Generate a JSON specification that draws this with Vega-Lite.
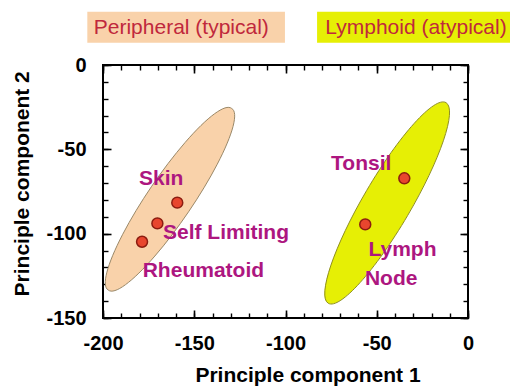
{
  "$schema": "https://vega.github.io/schema/vega-lite/v6.json",
  "width": 365,
  "height": 253,
  "autosize": {"type": "none"},
  "padding": {"left": 103, "top": 65, "right": 42, "bottom": 68},
  "background": "white",
  "config": {
    "font": "Liberation Sans",
    "view": {"stroke": "#000000", "strokeWidth": 2}
  },
  "datasets": {
    "ellipses": [
      {"group": "Peripheral", "x": -163.3, "y": -79.6},
      {"group": "Lymphoid", "x": -44.3, "y": -81.8}
    ],
    "samples": [
      {"x": -159.3, "y": -81.6},
      {"x": -170.2, "y": -93.9},
      {"x": -178.6, "y": -104.8},
      {"x": -34.9, "y": -67.2},
      {"x": -56.3, "y": -94.5}
    ],
    "labels": [
      {"label": "Skin", "x": -168.1, "y": -67.7},
      {"label": "Self Limiting", "x": -132.6, "y": -99.8},
      {"label": "Rheumatoid", "x": -145, "y": -121.9},
      {"label": "Tonsil", "x": -58.5, "y": -58.7},
      {"label": "Lymph", "x": -35.9, "y": -109.7},
      {"label": "Node", "x": -42.1, "y": -127.0}
    ],
    "boxes": [
      {"group": "Peripheral", "x1": -208.6, "x2": -100.3, "y1": 31.6, "y2": 13.2},
      {"group": "Lymphoid", "x1": -82.7, "x2": 26, "y1": 31.6, "y2": 13.2}
    ],
    "boxtext": [
      {"label": "Peripheral (typical)", "x": -157.1, "y": 21.8},
      {"label": "Lymphoid (atypical)", "x": -28.5, "y": 21.8}
    ]
  },
  "layer": [
    {
      "data": {"name": "ellipses"},
      "mark": {"type": "point", "filled": true, "size": 40000, "opacity": 1, "strokeWidth": 1},
      "encoding": {
        "x": {"field": "x", "type": "quantitative", "scale": {"domain": [-200, 0], "nice": false, "zero": false},
          "axis": {"orient": "bottom", "offset": -5, "values": [-200,-190,-180,-170,-160,-150,-140,-130,-120,-110,-100,-90,-80,-70,-60,-50,-40,-30,-20,-10,0], "tickSize": 5, "tickColor": "#000", "tickWidth": 1.4, "labels": false, "domain": false, "grid": false, "title": null}},
        "y": {"field": "y", "type": "quantitative", "scale": {"domain": [-150, 0], "nice": false, "zero": false},
          "axis": {"orient": "left", "offset": -5, "values": [-150,-140,-130,-120,-110,-100,-90,-80,-70,-60,-50,-40,-30,-20,-10,0], "tickSize": 5, "tickColor": "#000", "tickWidth": 1.4, "labels": false, "domain": false, "grid": false, "title": null}},
        "shape": {"field": "group", "type": "nominal", "legend": null,
          "scale": {"domain": ["Peripheral", "Lymphoid"], "range": [
            "M0.617,-0.908A1.098,0.22,-55.8,1,0,-0.617,0.908A1.098,0.22,-55.8,1,0,0.617,-0.908Z",
            "M0.589,-1.003A1.163,0.24,-59.6,1,0,-0.589,1.003A1.163,0.24,-59.6,1,0,0.589,-1.003Z"
          ]}},
        "fill": {"field": "group", "type": "nominal", "legend": null,
          "scale": {"domain": ["Peripheral", "Lymphoid"], "range": ["#f9d2aa", "#e6ef05"]}},
        "stroke": {"field": "group", "type": "nominal", "legend": null,
          "scale": {"domain": ["Peripheral", "Lymphoid"], "range": ["#9a8868", "#8f8f20"]}}
      }
    },
    {
      "data": {"name": "samples"},
      "mark": {"type": "circle", "size": 120, "opacity": 1, "fill": "#e8462e", "stroke": "#8c1c10", "strokeWidth": 1.5},
      "encoding": {
        "x": {"field": "x", "type": "quantitative", "scale": {"domain": [-200, 0], "nice": false, "zero": false},
          "axis": {"orient": "bottom", "offset": -8, "values": [-200, -150, -100, -50, 0], "tickSize": 8, "tickColor": "#000", "tickWidth": 1.6,
            "labelExpr": "'' + datum.value",
            "labelPadding": 15.5, "labelFontSize": 20, "labelFontWeight": "bold", "labelColor": "#000", "labelFlush": false,
            "domain": false, "grid": false,
            "title": "Principle component 1", "titleFontSize": 21, "titleFontWeight": "bold", "titleColor": "#000",
            "titleX": 204.5, "titleY": 71.7, "titleBaseline": "alphabetic", "titleAlign": "center"}},
        "y": {"field": "y", "type": "quantitative", "scale": {"domain": [-150, 0], "nice": false, "zero": false},
          "axis": {"orient": "left", "offset": -8, "values": [-150, -100, -50, 0], "tickSize": 8, "tickColor": "#000", "tickWidth": 1.6,
            "labelExpr": "'' + datum.value",
            "labelPadding": 17, "labelFontSize": 20, "labelFontWeight": "bold", "labelColor": "#000", "labelFlush": false,
            "domain": false, "grid": false,
            "title": "Principle component 2", "titleFontSize": 21, "titleFontWeight": "bold", "titleColor": "#000",
            "titleX": -82.7, "titleY": 118.3, "titleAngle": 270, "titleBaseline": "alphabetic", "titleAlign": "center"}}
      }
    },
    {
      "data": {"name": "labels"},
      "mark": {"type": "text", "fontSize": 21, "fontWeight": "bold", "color": "#ad1680", "align": "center", "baseline": "middle"},
      "encoding": {
        "x": {"field": "x", "type": "quantitative", "scale": {"domain": [-200, 0], "nice": false, "zero": false},
          "axis": {"orient": "top", "offset": -5, "values": [-200,-190,-180,-170,-160,-150,-140,-130,-120,-110,-100,-90,-80,-70,-60,-50,-40,-30,-20,-10,0], "tickSize": 5, "tickColor": "#000", "tickWidth": 1.4, "labels": false, "domain": false, "grid": false, "title": null}},
        "y": {"field": "y", "type": "quantitative", "scale": {"domain": [-150, 0], "nice": false, "zero": false},
          "axis": {"orient": "right", "offset": -5, "values": [-150,-140,-130,-120,-110,-100,-90,-80,-70,-60,-50,-40,-30,-20,-10,0], "tickSize": 5, "tickColor": "#000", "tickWidth": 1.4, "labels": false, "domain": false, "grid": false, "title": null}},
        "text": {"field": "label", "type": "nominal"}
      }
    },
    {
      "data": {"name": "boxes"},
      "mark": {"type": "rect"},
      "encoding": {
        "x": {"field": "x1", "type": "quantitative", "scale": {"domain": [-200, 0], "nice": false, "zero": false},
          "axis": {"orient": "top", "offset": -8, "values": [-200, -150, -100, -50, 0], "tickSize": 8, "tickColor": "#000", "tickWidth": 1.6, "labels": false, "domain": false, "grid": false, "title": null}},
        "x2": {"field": "x2"},
        "y": {"field": "y1", "type": "quantitative", "scale": {"domain": [-150, 0], "nice": false, "zero": false},
          "axis": {"orient": "right", "offset": -8, "values": [-150, -100, -50, 0], "tickSize": 8, "tickColor": "#000", "tickWidth": 1.6, "labels": false, "domain": false, "grid": false, "title": null}},
        "y2": {"field": "y2"},
        "fill": {"field": "group", "type": "nominal", "legend": null,
          "scale": {"domain": ["Peripheral", "Lymphoid"], "range": ["#f8d0b0", "#e6f000"]}}
      }
    },
    {
      "data": {"name": "boxtext"},
      "mark": {"type": "text", "fontSize": 21, "color": "#c0283c", "align": "center", "baseline": "middle"},
      "encoding": {
        "x": {"field": "x", "type": "quantitative", "scale": {"domain": [-200, 0], "nice": false, "zero": false}, "axis": null},
        "y": {"field": "y", "type": "quantitative", "scale": {"domain": [-150, 0], "nice": false, "zero": false}, "axis": null},
        "text": {"field": "label", "type": "nominal"}
      }
    }
  ],
  "resolve": {"axis": {"x": "independent", "y": "independent"}}
}
